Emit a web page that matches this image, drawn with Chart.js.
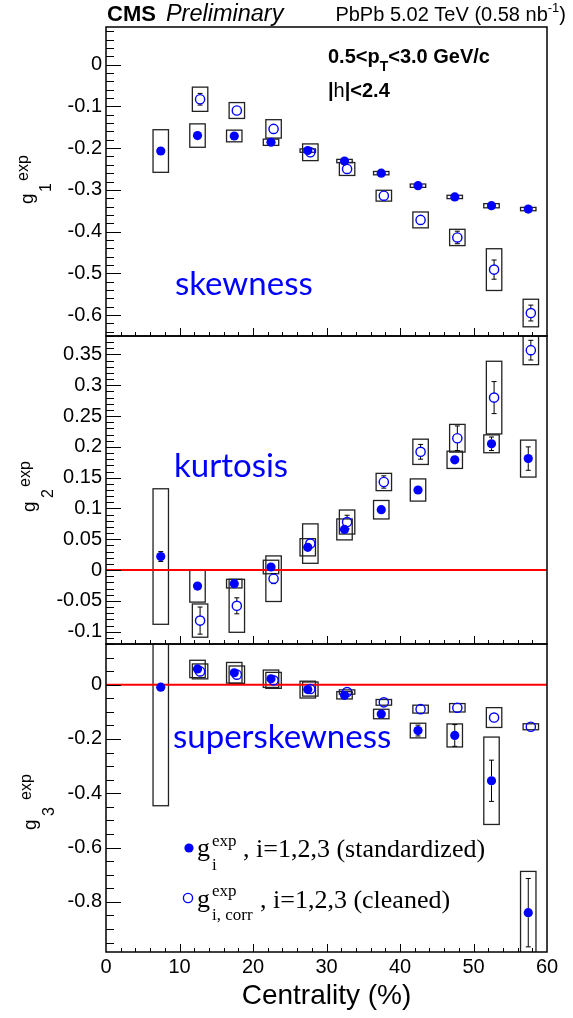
<!DOCTYPE html>
<html>
<head>
<meta charset="utf-8">
<script src="https://cdn.jsdelivr.net/npm/chart.js@4.4.1/dist/chart.umd.min.js"></script>
<style>
  html, body { margin: 0; padding: 0; background: #fff; }
  #wrap { position: relative; width: 573px; height: 1018px; }
  #wrap canvas { position: absolute; left: 0; top: 0; }
</style>
</head>
<body>
<div id="wrap">
  <canvas id="skew" width="573" height="1018"></canvas>
  <canvas id="kurt" width="573" height="1018"></canvas>
  <canvas id="sskew" width="573" height="1018"></canvas>
</div>
<script>
// centrality bin centres (%); the cleaned values start at the 10-15% bin
const centrality = [7.5, 12.5, 17.5, 22.5, 27.5, 32.5, 37.5, 42.5, 47.5, 52.5, 57.5];
const centralityCorr = [12.5, 17.5, 22.5, 27.5, 32.5, 37.5, 42.5, 47.5, 52.5, 57.5];

// g1 (skewness)
const g1Std     = [-0.207, -0.170, -0.171, -0.186, -0.206, -0.231, -0.260, -0.290, -0.317, -0.338, -0.346];
const g1StdStat = [0.004, 0.003, 0.003, 0.003, 0.003, 0.003, 0.003, 0.003, 0.003, 0.003, 0.003];
const g1StdSys  = [0.051, 0.028, 0.014, 0.0075, 0.004, 0.004, 0.004, 0.004, 0.004, 0.005, 0.004];
const g1Corr     = [-0.083, -0.110, -0.154, -0.210, -0.250, -0.314, -0.372, -0.414, -0.491, -0.595];
const g1CorrStat = [0.014, 0.006, 0.006, 0.005, 0.005, 0.006, 0.008, 0.015, 0.023, 0.019];
const g1CorrSys  = [0.029, 0.019, 0.022, 0.020, 0.0155, 0.013, 0.019, 0.0195, 0.050, 0.033];

// g2 (kurtosis)
const g2Std     = [0.022, -0.026, -0.022, 0.005, 0.037, 0.066, 0.098, 0.130, 0.179, 0.205, 0.181];
const g2StdStat = [0.008, 0.004, 0.003, 0.003, 0.004, 0.004, 0.005, 0.005, 0.006, 0.011, 0.019];
const g2StdSys  = [0.110, 0.026, 0.007, 0.011, 0.014, 0.017, 0.015, 0.018, 0.014, 0.0145, 0.030];
const g2Corr     = [-0.082, -0.058, -0.014, 0.043, 0.078, 0.143, 0.192, 0.214, 0.280, 0.357];
const g2CorrStat = [0.022, 0.013, 0.008, 0.004, 0.011, 0.010, 0.012, 0.020, 0.026, 0.016];
const g2CorrSys  = [0.027, 0.043, 0.037, 0.032, 0.0195, 0.014, 0.0205, 0.0225, 0.059, 0.0235];

// g3 (superskewness)
const g3Std     = [-0.009, 0.058, 0.044, 0.022, -0.018, -0.039, -0.108, -0.169, -0.187, -0.354, -0.840];
const g3StdStat = [0.010, 0.012, 0.006, 0.005, 0.005, 0.005, 0.006, 0.020, 0.040, 0.076, 0.126];
const g3StdSys  = [0.437, 0.032, 0.038, 0.032, 0.031, 0.0135, 0.0175, 0.027, 0.0425, 0.161, 0.152];
const g3Corr     = [0.049, 0.037, 0.016, -0.016, -0.027, -0.065, -0.090, -0.085, -0.121, -0.155];
const g3CorrStat = [0.006, 0.005, 0.004, 0.004, 0.004, 0.004, 0.004, 0.005, 0.010, 0.004];
const g3CorrSys  = [0.0275, 0.032, 0.0295, 0.026, 0.008, 0.0105, 0.0145, 0.0155, 0.0365, 0.011];

// axis ticks
const xTicks  = [0, 10, 20, 30, 40, 50, 60];
const g1Ticks = [0, -0.1, -0.2, -0.3, -0.4, -0.5, -0.6];
const g2Ticks = [0.35, 0.3, 0.25, 0.2, 0.15, 0.1, 0.05, 0, -0.05, -0.1];
const g3Ticks = [0, -0.2, -0.4, -0.6, -0.8];

const BLUE = '#0000ff';
const SANS = '"Liberation Sans", Arial, sans-serif';
const SERIF = '"Liberation Serif", "Times New Roman", serif';
const STD_SHIFT = -0.05, CORR_SHIFT = 0.3, BOX_HALF = 1.05, R = 4.6;
const PAGE_H = 1018;

function pts(xs, ys, shift) {
  return xs.map((x, i) => ({ x: x + shift, y: ys[i] }));
}

// systematic boxes and statistical bars, drawn under the markers
const uncertainties = {
  id: 'uncertainties',
  beforeDatasetsDraw(chart, args, opts) {
    const { ctx, chartArea: a, scales: { x, y } } = chart;
    ctx.save();
    ctx.beginPath();
    ctx.rect(a.left, a.top, a.width, a.height);
    ctx.clip();
    opts.series.forEach(s => {
      s.cent.forEach((c, i) => {
        const v = s.val[i];
        const xc = x.getPixelForValue(c + s.shift);
        const x0 = x.getPixelForValue(c + s.shift - BOX_HALF);
        const x1 = x.getPixelForValue(c + s.shift + BOX_HALF);
        const yt = y.getPixelForValue(v + s.sys[i]);
        const yb = y.getPixelForValue(v - s.sys[i]);
        ctx.strokeStyle = '#222';
        ctx.lineWidth = 1.3;
        ctx.strokeRect(x0, yt, x1 - x0, yb - yt);

        const yc = y.getPixelForValue(v);
        const y0 = y.getPixelForValue(v + s.stat[i]);
        const y1 = y.getPixelForValue(v - s.stat[i]);
        ctx.strokeStyle = '#000';
        ctx.lineWidth = 1;
        ctx.beginPath();
        if (yc - y0 > R) {
          ctx.moveTo(xc, y0); ctx.lineTo(xc, yc - R);
          ctx.moveTo(xc - 2.5, y0); ctx.lineTo(xc + 2.5, y0);
        }
        if (y1 - yc > R) {
          ctx.moveTo(xc, yc + R); ctx.lineTo(xc, y1);
          ctx.moveTo(xc - 2.5, y1); ctx.lineTo(xc + 2.5, y1);
        }
        ctx.stroke();
      });
    });
    ctx.restore();
  }
};

// frame, inward ticks, axis title and the panel's text
const frame = {
  id: 'frame',
  afterDraw(chart, args, opts) {
    const { ctx, chartArea: a, scales: { x, y } } = chart;
    ctx.save();
    ctx.strokeStyle = '#000';
    ctx.lineWidth = 1;
    ctx.beginPath();
    // y ticks
    const k0 = Math.ceil(y.min / opts.minor - 1e-6), k1 = Math.floor(y.max / opts.minor + 1e-6);
    for (let k = k0; k <= k1; k++) {
      const v = k * opts.minor;
      const r = v / opts.major;
      const len = Math.abs(r - Math.round(r)) < 1e-6 ? 15 : 8;
      const py = Math.round(y.getPixelForValue(v)) + 0.5;
      ctx.moveTo(a.left, py); ctx.lineTo(a.left + len, py);
    }
    // x ticks along the bottom edge
    for (let v = 2; v < 60; v += 2) {
      const len = v % 10 === 0 ? 8 : 4;
      const px = Math.round(x.getPixelForValue(v)) + 0.5;
      ctx.moveTo(px, a.bottom); ctx.lineTo(px, a.bottom - len);
    }
    ctx.stroke();
    ctx.lineWidth = 1.5;
    ctx.strokeRect(a.left, a.top, a.right - a.left, a.bottom - a.top);

    // rotated y title: g^exp_n
    const t = opts.title;
    ctx.fillStyle = '#000';
    ctx.translate(t.x, t.y);
    ctx.rotate(-Math.PI / 2);
    ctx.font = '19px ' + SANS;
    ctx.fillText('g', 0, 0);
    ctx.font = '16px ' + SANS;
    ctx.fillText(t.sub, t.subDx, 18);
    ctx.fillText('exp', t.expDx, -5);
    ctx.restore();

    if (opts.extra) opts.extra(ctx);
  }
};

function makePanel(id, p) {
  const showX = !!p.showX;
  const datasets = [
    { data: pts(centrality, p.std, STD_SHIFT), pointStyle: 'circle', pointRadius: R,
      backgroundColor: BLUE, borderColor: BLUE, borderWidth: 0, order: 0 },
    { data: pts(centralityCorr, p.corr, CORR_SHIFT), pointStyle: 'circle', pointRadius: R,
      backgroundColor: 'rgba(0,0,0,0)', borderColor: BLUE, borderWidth: 1.4, order: 0 }
  ];
  if (p.zeroLine) {
    datasets.push({ type: 'line', data: [{ x: 0, y: 0 }, { x: 60, y: 0 }],
      borderColor: '#ff0000', borderWidth: 2, pointRadius: 0, order: 2 });
  }
  return new Chart(document.getElementById(id), {
    type: 'scatter',
    data: { datasets },
    options: {
      responsive: false,
      animation: false,
      devicePixelRatio: 1,
      events: [],
      layout: { padding: { left: 0, right: 26, top: p.top, bottom: p.bottom } },
      plugins: {
        legend: { display: false },
        tooltip: { enabled: false },
        uncertainties: {
          series: [
            { cent: centrality, shift: STD_SHIFT, val: p.std, stat: p.stdStat, sys: p.stdSys },
            { cent: centralityCorr, shift: CORR_SHIFT, val: p.corr, stat: p.corrStat, sys: p.corrSys }
          ]
        },
        frame: { major: p.major, minor: p.minor, title: p.title, extra: p.extra }
      },
      scales: {
        x: {
          type: 'linear', min: 0, max: 60, display: showX,
          afterBuildTicks: s => { s.ticks = xTicks.map(v => ({ value: v })); },
          afterFit: s => { s.height = showX ? 61 : 0; },
          grid: { display: false, drawTicks: false },
          border: { display: false },
          ticks: { color: '#000', padding: 3, font: { family: SANS, size: 20 } },
          title: { display: true, text: 'Centrality (%)', color: '#000',
                   padding: { top: 0, bottom: 0 }, font: { family: SANS, size: 28 } }
        },
        y: {
          type: 'linear', min: p.min, max: p.max,
          afterFit: s => { s.width = 106; },
          afterBuildTicks: s => { s.ticks = p.ticks.map(v => ({ value: v })); },
          grid: { display: false, drawTicks: false },
          border: { display: false },
          ticks: { color: '#000', padding: 4, font: { family: SANS, size: 20 },
                   callback: v => String(v) }
        }
      }
    },
    plugins: [uncertainties, frame]
  });
}

function blueLabel(text, x, y) {
  return ctx => {
    ctx.save();
    ctx.fillStyle = BLUE;
    ctx.font = '33px Lato, "Open Sans", sans-serif';
    ctx.fillText(text, x, y);
    ctx.restore();
  };
}

makePanel('skew', {
  top: 27, bottom: PAGE_H - 336, min: -0.65, max: 0.09, ticks: g1Ticks, major: 0.1, minor: 0.02,
  std: g1Std, stdStat: g1StdStat, stdSys: g1StdSys,
  corr: g1Corr, corrStat: g1CorrStat, corrSys: g1CorrSys,
  title: { sub: '1', x: 33, y: 204, subDx: 12, expDx: 23 },
  extra: ctx => {
    blueLabel('skewness', 175, 295)(ctx);
    ctx.save();
    ctx.fillStyle = '#000';
    // experiment label
    ctx.font = 'bold 22px ' + SANS;
    ctx.fillText('CMS', 107, 21);
    const wCms = ctx.measureText('CMS').width;
    ctx.font = 'italic 23.5px ' + SANS;
    ctx.fillText('Preliminary', 107 + wCms + 10, 21);
    // collision system, right aligned
    ctx.font = '20px ' + SANS;
    const a = 'PbPb 5.02 TeV (0.58 nb', c = ')';
    const wa = ctx.measureText(a).width, wc = ctx.measureText(c).width;
    ctx.font = '13px ' + SANS;
    const wb = ctx.measureText('-1').width;
    const x0 = 566 - wa - wb - wc;
    ctx.font = '20px ' + SANS;
    ctx.fillText(a, x0, 21);
    ctx.font = '13px ' + SANS;
    ctx.fillText('-1', x0 + wa, 12);
    ctx.font = '20px ' + SANS;
    ctx.fillText(c, x0 + wa + wb, 21);
    // kinematic selection
    ctx.font = 'bold 20px ' + SANS;
    let px = 328;
    ctx.fillText('0.5<p', px, 63);
    px += ctx.measureText('0.5<p').width;
    ctx.font = 'bold 14px ' + SANS;
    ctx.fillText('T', px, 71);
    px += ctx.measureText('T').width;
    ctx.font = 'bold 20px ' + SANS;
    ctx.fillText('<3.0 GeV/c', px, 63);
    px = 328;
    ctx.fillText('|', px, 97);
    px += ctx.measureText('|').width;
    ctx.font = '20px ' + SANS;
    ctx.fillText('h', px, 97);
    px += ctx.measureText('h').width;
    ctx.font = 'bold 20px ' + SANS;
    ctx.fillText('|<2.4', px, 97);
    ctx.restore();
  }
});

makePanel('kurt', {
  top: 336, bottom: PAGE_H - 644, min: -0.12, max: 0.38, ticks: g2Ticks, major: 0.05, minor: 0.01,
  std: g2Std, stdStat: g2StdStat, stdSys: g2StdSys,
  corr: g2Corr, corrStat: g2CorrStat, corrSys: g2CorrSys,
  zeroLine: true,
  title: { sub: '2', x: 35, y: 512, subDx: 14, expDx: 25 },
  extra: blueLabel('kurtosis', 174, 477)
});

makePanel('sskew', {
  top: 644, bottom: PAGE_H - 952 - 61, min: -0.985, max: 0.15, ticks: g3Ticks, major: 0.2, minor: 0.05,
  std: g3Std, stdStat: g3StdStat, stdSys: g3StdSys,
  corr: g3Corr, corrStat: g3CorrStat, corrSys: g3CorrSys,
  zeroLine: true, showX: true,
  title: { sub: '3', x: 36, y: 830, subDx: 14, expDx: 30 },
  extra: ctx => {
    blueLabel('superskewness', 173, 748)(ctx);
    ctx.save();
    // legend
    ctx.fillStyle = BLUE;
    ctx.beginPath(); ctx.arc(189, 848, R, 0, Math.PI * 2); ctx.fill();
    ctx.strokeStyle = BLUE; ctx.lineWidth = 1.4;
    ctx.beginPath(); ctx.arc(188, 898, R, 0, Math.PI * 2); ctx.stroke();
    ctx.fillStyle = '#000';
    ctx.font = '26px ' + SERIF;
    ctx.fillText('g', 197, 856);
    ctx.fillText(', i=1,2,3 (standardized)', 243, 857);
    ctx.fillText('g', 197, 907);
    ctx.fillText(', i=1,2,3 (cleaned)', 260, 908);
    ctx.font = '17px ' + SERIF;
    ctx.fillText('exp', 212, 846);
    ctx.fillText('i', 212, 870);
    ctx.fillText('exp', 212, 896);
    ctx.fillText('i, corr', 212, 920);
    ctx.restore();
  }
});
</script>
</body>
</html>
